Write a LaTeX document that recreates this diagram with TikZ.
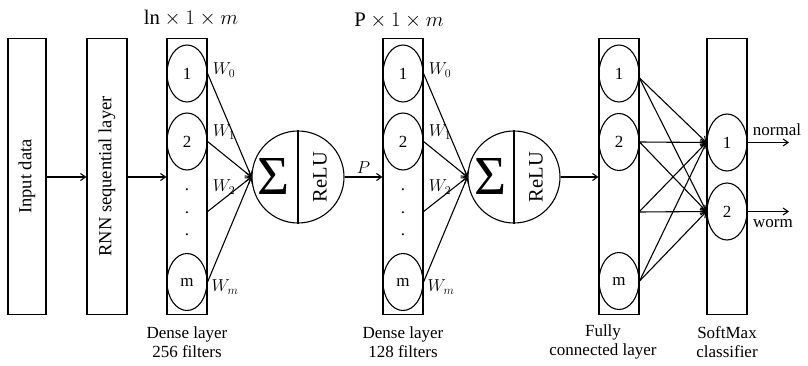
\documentclass[tikz,border=0pt]{standalone}
\usepackage{fontspec}
\setmainfont{Liberation Serif}
\usetikzlibrary{positioning}
\usetikzlibrary{arrows.meta}
\usetikzlibrary{shapes.geometric}

\tikzset{
    txt/.style={font=\fontsize{17}{19}\selectfont},
    vtxt/.style={font=\fontsize{18.5}{20}\selectfont, rotate=90},
    layerbox/.style={draw, line width=1.1pt, minimum width=40pt, minimum height=276pt, inner sep=0pt},
    unit/.style={draw, line width=1.1pt, ellipse, minimum width=40pt, minimum height=57pt, inner sep=0pt, txt},
    sumnode/.style={draw, line width=1.1pt, circle, minimum size=92pt, inner sep=0pt},
    sigma/.style={font=\fontsize{55}{55}\selectfont},
    relu/.style={font=\fontsize{20.5}{21}\selectfont, rotate=90},
    conn/.style={line width=1.1pt, -{Straight Barb[length=5pt,width=7pt]}},
    wlabel/.style={font=\fontsize{18}{19}\selectfont},
    dimlabel/.style={font=\fontsize{20.7}{22}\selectfont},
}

\begin{document}
\begin{tikzpicture}[x=1pt, y=-1pt]
    \useasboundingbox (0,0) rectangle (808,366);

    % Input and RNN blocks
    \node[layerbox, minimum width=38pt] (inp) at (27, 176.5) {};
    \node[vtxt] at (inp) {Input data};
    \node[layerbox] (rnn) at (107, 176.5) {};
    \node[vtxt] at (rnn) {RNN sequential layer};
    \draw[conn] (inp.east |- 0,177) -- (rnn.west |- 0,177);

    % Dense layer 1
    \node[layerbox] (dA) at (187, 176.5) {};
    \node[unit] (dA1) at (187, 73.5) {1};
    \node[unit] (dA2) at (187, 141.5) {2};
    \node[unit] (dAm) at (187, 282) {m};
    \foreach \y in {190,213,235} \node[txt] at (187, \y) {.};
    \coordinate (dAx) at (207, 212);
    \node[dimlabel] at (191, 18) {$\mathrm{ln}\times 1\times m$};
    \node[txt, align=center] at (187, 342) {Dense layer\\256 filters};
    \draw[conn] (rnn.east |- 0,177) -- (dA.west |- 0,177);

    % Sum / ReLU 1
    \node[sumnode] (sA) at (298, 177) {};
    \draw[line width=1.1pt] (sA.north) -- (sA.south);
    \node[sigma] at (274, 176) {Σ};
    \node[relu] at (320, 177) {ReLU};
    \foreach \s in {dA1.east, dA2.east, dAx, dAm.east}
        \draw[conn] (\s) -- (sA.west);
    \node[wlabel] at (224, 70) {$W_0$};
    \node[wlabel] at (224, 132) {$W_1$};
    \node[wlabel] at (224, 187) {$W_2$};
    \node[wlabel] at (225, 287) {$W_m$};

    % Dense layer 2
    \node[layerbox] (dB) at (403, 176.5) {};
    \node[unit] (dB1) at (403, 73.5) {1};
    \node[unit] (dB2) at (403, 141.5) {2};
    \node[unit] (dBm) at (403, 282) {m};
    \foreach \y in {190,213,235} \node[txt] at (403, \y) {.};
    \coordinate (dBx) at (423, 212);
    \node[dimlabel] at (399, 21) {$\mathrm{P}\times 1\times m$};
    \node[txt, align=center] at (403, 342) {Dense layer\\128 filters};
    \draw[conn] (sA.east) -- node[above, wlabel] {$P$} (dB.west |- sA.east);

    % Sum / ReLU 2
    \node[sumnode] (sB) at (514, 177) {};
    \draw[line width=1.1pt] (sB.north) -- (sB.south);
    \node[sigma] at (490, 176) {Σ};
    \node[relu] at (536, 177) {ReLU};
    \foreach \s in {dB1.east, dB2.east, dBx, dBm.east}
        \draw[conn] (\s) -- (sB.west);
    \node[wlabel] at (440, 70) {$W_0$};
    \node[wlabel] at (440, 132) {$W_1$};
    \node[wlabel] at (440, 187) {$W_2$};
    \node[wlabel] at (441, 287) {$W_m$};

    % Fully connected layer
    \node[layerbox] (fc) at (619, 176.5) {};
    \node[unit] (fc1) at (619, 73.5) {1};
    \node[unit] (fc2) at (619, 142) {2};
    \node[unit] (fcm) at (619, 281) {m};
    \coordinate (fcx) at (639, 212);
    \node[txt, align=center] at (603, 342) {Fully\\connected layer};
    \draw[conn] (sB.east) -- (fc.west |- sB.east);

    % SoftMax classifier
    \node[layerbox] (sm) at (727, 176.5) {};
    \node[unit] (sm1) at (727, 142.5) {1};
    \node[unit] (sm2) at (727, 211.5) {2};
    \node[txt, align=center] at (727, 342) {SoftMax\\classifier};
    \foreach \s in {fc1.-12, fc2.east, fcx, fcm.east} {
        \draw[conn] (\s) -- (sm1.west);
        \draw[conn] (\s) -- (sm2.west);
    }

    % Outputs
    \coordinate (outA) at (789, 142.5);
    \coordinate (outB) at (789, 211.5);
    \draw[conn] (sm1.east) -- (outA);
    \draw[conn] (sm2.east) -- (outB);
    \node[txt] at (777, 130) {normal};
    \node[txt] at (773, 224) {worm};
\end{tikzpicture}
\end{document}
